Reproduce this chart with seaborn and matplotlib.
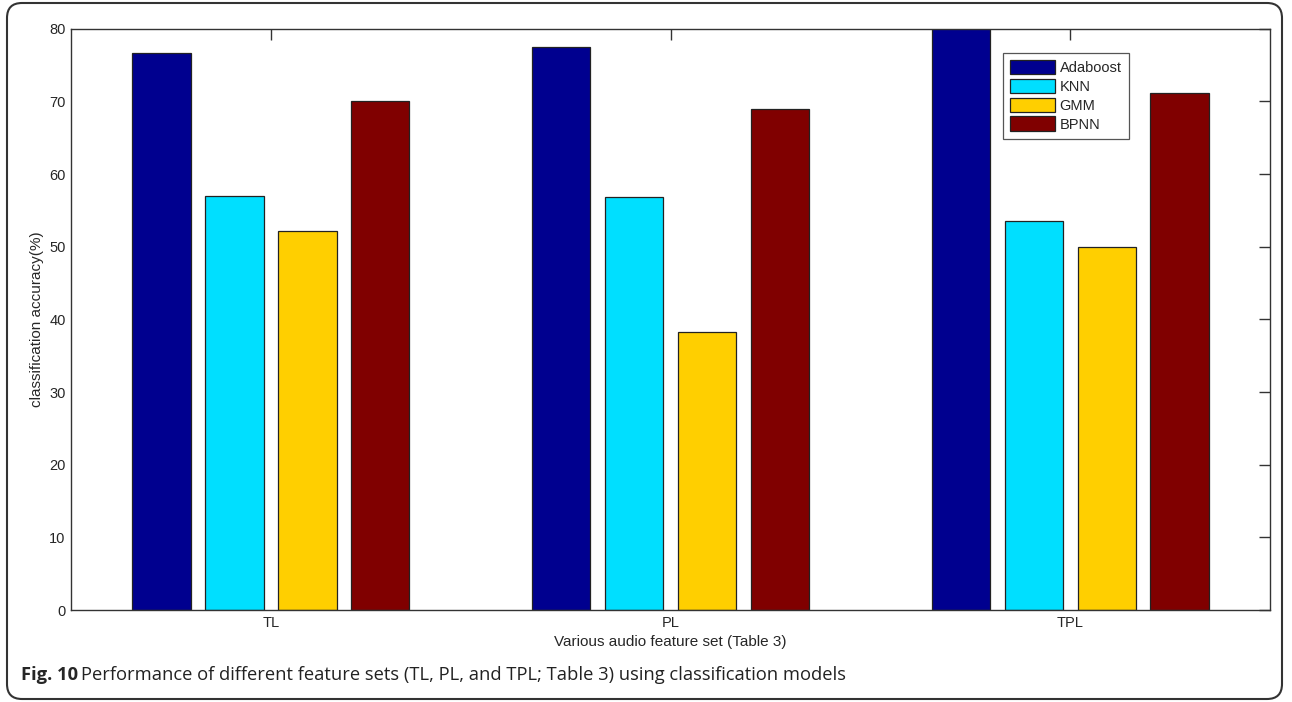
import pandas as pd
import numpy as np
import matplotlib.pyplot as plt
import seaborn as sns
from matplotlib.patches import FancyBboxPatch

# data
feature_sets = ["TL", "PL", "TPL"]
models = ["Adaboost", "KNN", "GMM", "BPNN"]
adaboost = [76.7, 77.5, 80.3]
knn = [57.0, 56.9, 53.5]
gmm = [52.2, 38.3, 49.9]
bpnn = [70.0, 68.9, 71.1]
colors = ["#00008F", "#00DFFF", "#FFCF00", "#800000"]

rows = []
for model, vals in zip(models, [adaboost, knn, gmm, bpnn]):
    for fs, v in zip(feature_sets, vals):
        rows.append({"feature_set": fs, "model": model, "accuracy": v})
df = pd.DataFrame(rows)

sns.set_style("white")
plt.rcParams["font.family"] = ["Liberation Sans", "DejaVu Sans"]

fig = plt.figure(figsize=(12.92, 7.02), dpi=100)
ax = fig.add_axes([0.055, 0.131, 0.928, 0.828])

sns.barplot(data=df, x="feature_set", y="accuracy", hue="model",
            order=feature_sets, hue_order=models, palette=colors,
            width=0.73, gap=0.2, saturation=1, errorbar=None,
            edgecolor="#222222", linewidth=0.9, ax=ax)

ax.set_xlim(-0.5, 2.5)
ax.set_ylim(0, 80)
ax.set_yticks(np.arange(0, 81, 10))
ax.tick_params(direction="in", top=True, right=True, length=8, width=1,
               labelsize=10.5, color="#333333", pad=4)
for s in ax.spines.values():
    s.set_color("#333333")
    s.set_linewidth(1)

ax.set_xlabel("Various audio feature set (Table 3)", fontsize=11, labelpad=4)
ax.set_ylabel("classification accuracy(%)", fontsize=11, labelpad=4)

leg = ax.legend(loc="upper left", bbox_to_anchor=(0.777, 0.959), borderaxespad=0,
                fontsize=10.5, handlelength=3.1, handleheight=1.15, labelspacing=0.25,
                handletextpad=0.3, borderpad=0.5, fancybox=False,
                edgecolor="#555555", framealpha=1)
leg.get_frame().set_linewidth(0.9)

# caption
fig.text(0.016, 0.031, "Fig. 10", fontsize=13.2, fontweight="bold",
         family=["Open Sans", "DejaVu Sans"], va="baseline")
fig.text(0.0625, 0.031,
         "Performance of different feature sets (TL, PL, and TPL; Table 3) using classification models",
         fontsize=13.2, family=["Open Sans", "DejaVu Sans"], va="baseline", color="#222222")

# rounded frame around the figure
frame = FancyBboxPatch((0.07, 0.03), 12.82 - 0.07, 6.96, boxstyle="round,pad=0,rounding_size=0.15",
                       transform=fig.dpi_scale_trans, fill=False,
                       edgecolor="#333333", linewidth=1.5)
fig.patches.append(frame)

fig.savefig("out.png", dpi=100)
